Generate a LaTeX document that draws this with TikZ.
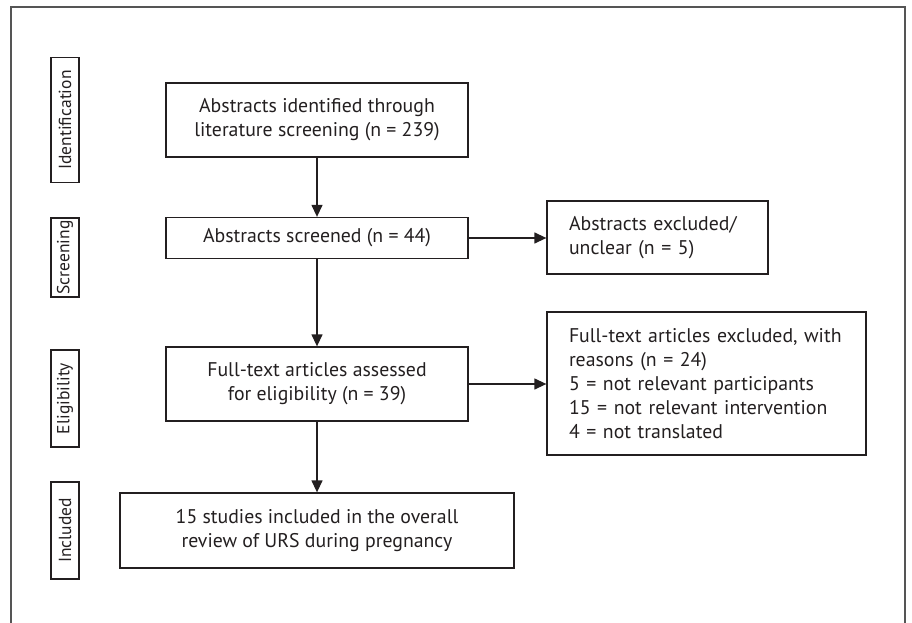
\documentclass[tikz,border=0pt]{standalone}
\usepackage{fontspec}
\setmainfont{PT Sans}
\usetikzlibrary{arrows.meta}
\definecolor{ink}{HTML}{231F20}
\definecolor{frame}{HTML}{555555}
\begin{document}
\begin{tikzpicture}[x=1pt,y=-1pt,
  every node/.style={font=\fontsize{19.8}{24}\selectfont, text=ink},
  box/.style={draw=ink, line width=1.3pt, align=center, inner sep=0pt},
  sidebox/.style={draw=ink, line width=1.1pt, rotate=90, inner sep=0pt, minimum height=28pt, font=\fontsize{17.5}{20}\selectfont},
  excl/.style={draw=ink, line width=1.3pt, align=left, inner xsep=22pt, inner ysep=0pt},
  arr/.style={draw=ink, line width=1.3pt, -{Triangle[length=12pt,width=11pt]}}]
\useasboundingbox (0,0) rectangle (912,623);
\draw[frame, line width=1.8pt] (11,623) -- (11,7) -- (905,7) -- (905,623);
\node[sidebox, minimum width=125pt] (sid) at (65,120) {Identification};
\node[sidebox, minimum width=79pt] (ssc) at (65,257.5) {Screening};
\node[sidebox, minimum width=97pt] (sel) at (65,398.5) {Eligibility};
\node[sidebox, minimum width=97pt] (sin) at (65,530.5) {Included};
\node[box, minimum width=302pt, minimum height=74pt] (b1) at (317,120) {Abstracts identified through\\literature screening (n = 239)};
\node[box, minimum width=302pt, minimum height=41pt] (b2) at (317,238) {Abstracts screened (n = 44)};
\node[box, minimum width=302pt, minimum height=74pt] (b3) at (317,384) {Full-text articles assessed\\for eligibility (n = 39)};
\node[box, minimum width=394pt, minimum height=75pt] (b4) at (317,530.5) {15 studies included in the overall\\review of URS during pregnancy};
\node[excl, text width=177pt, minimum height=73pt] (e1) at (657.5,237.5) {Abstracts excluded/\\unclear (n = 5)};
\node[excl, text width=275pt, minimum height=143pt] (e2) at (706.5,383.5) {Full-text articles excluded, with\\reasons (n = 24)\\5 = not relevant participants\\15 = not relevant intervention\\4 = not translated};
\draw[arr] (b1) -- (b2);
\draw[arr] (b2) -- (b3);
\draw[arr] (b3) -- (b4);
\draw[arr] (b2) -- (e1.west |- b2);
\draw[arr] (b3) -- (e2.west |- b3);
\end{tikzpicture}
\end{document}
